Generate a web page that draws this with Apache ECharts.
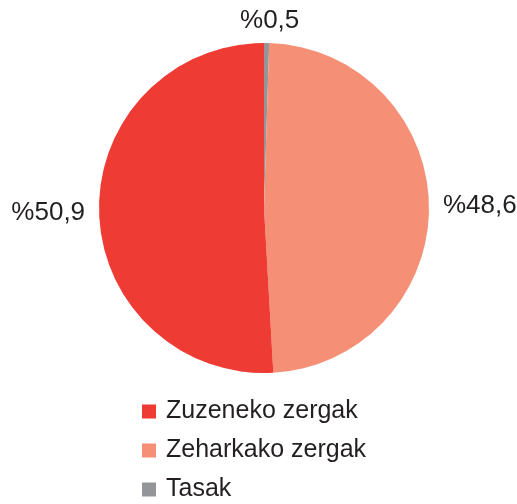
<!DOCTYPE html>
<html>
<head>
<meta charset="utf-8">
<script src="https://cdn.jsdelivr.net/npm/echarts@6/dist/echarts.min.js"></script>
<style>
  html, body { margin: 0; padding: 0; background: #fff; }
  #chart { width: 517px; height: 504px; }
</style>
</head>
<body>
<div id="chart"></div>
<script>
  // slice order clockwise from 12 o'clock
  const sliceNames = ["Tasak", "Zeharkako zergak", "Zuzeneko zergak"];
  const sliceValues = [0.5, 48.6, 50.9];
  const sliceColors = ["#939598", "#F58F75", "#EE3B33"];
  const legendOrder = ["Zuzeneko zergak", "Zeharkako zergak", "Tasak"];

  let chart = echarts.init(document.getElementById("chart"));

  let pieData = sliceNames.map(function (name, i) {
    return { name: name, value: sliceValues[i], itemStyle: { color: sliceColors[i] } };
  });

  let option = {
    animation: false,
    textStyle: { fontFamily: "Liberation Sans" },
    legend: {
      orient: "vertical",
      left: 142,
      top: 399,
      padding: 0,
      height: 110,
      data: legendOrder,
      icon: "rect",
      itemWidth: 14,
      itemHeight: 14,
      itemGap: 14,
      textStyle: {
        fontSize: 25,
        color: "#231f20",
        fontFamily: "Liberation Sans",
        padding: [0, 0, 0, 5]
      }
    },
    series: [
      {
        type: "pie",
        center: [264, 208],
        radius: 165,
        startAngle: 90,
        clockwise: true,
        data: pieData,
        label: {
          show: true,
          position: "outside",
          fontSize: 26,
          color: "#231f20",
          fontFamily: "Liberation Sans",
          overflow: "none",
          formatter: function (p) {
            return "%" + p.value.toFixed(1).replace(".", ",");
          }
        },
        labelLine: { show: false, length: 5, length2: 4 },
        labelLayout: function (params) {
          if (params.dataIndex === 0) {
            return { align: "center", verticalAlign: "bottom", dx: -6, dy: -4 };
          }
        },
        emphasis: { disabled: true }
      }
    ]
  };

  chart.setOption(option);
</script>
</body>
</html>
